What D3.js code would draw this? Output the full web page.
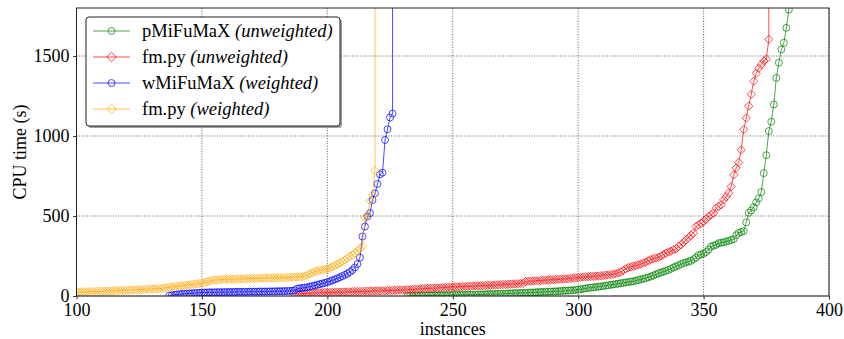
<!DOCTYPE html>
<html><head><meta charset="utf-8">
<script src="https://cdn.jsdelivr.net/npm/d3@7"></script>
<style>
html,body{margin:0;padding:0;background:#fff;}
svg{display:block;}
svg text{font-family:"Liberation Serif","DejaVu Serif","Times New Roman",serif;}
</style></head><body>
<svg id="chart" width="844" height="339"></svg>
<script>
// ---------- data ----------
const xTicks = [100, 150, 200, 250, 300, 350, 400];
const yTicks = [0, 500, 1000, 1500];
const seriesNames = ["pMiFuMaX", "fm.py", "wMiFuMaX", "fm.py"];
const seriesTags = ["(unweighted)", "(unweighted)", "(weighted)", "(weighted)"];
const seriesColors = ["green", "red", "blue", "orange"];
const seriesShapes = ["circle", "diamond", "circle", "diamond"];
// index of the last solved instance of each series (values run up to it)
const lastSolved = [384, 376, 226, 219];
// time limit reached after the last solved instance (drawn as the vertical rise)
const timeLimit = 3600;

const pMiFuMaXUnweighted = [
  1,1,1,2,2,2,2,3,3,3,3,4,4,4,4,5,5,5,6,
  6,6,7,7,7,8,8,8,9,9,10,10,11,11,12,12,13,13,14,14,15,16,16,17,18,
  18,19,20,20,21,22,22,23,24,25,25,26,27,28,28,29,30,31,32,33,34,35,36,38,
  40,42,45,48,50,52,54,56,58,60,
  62,65,67,70,72,75,77,80,82,85,
  87,90,92,96,100,104,108,112,117,122,
  128,135,142,147,152,157,163,170,178,185,
  192,200,206,210,215,220,230,240,255,260,
  265,275,290,309,315,320,330,333,336,340,
  345,350,355,380,395,400,405,460,520,535,
  555,585,610,650,768,880,1031,1089,1197,1363,
  1458,1541,1583,1676,1790
];
const fmpyUnweighted = [
  10,12,13,14,15,16,17,18,18,19,20,21,22,22,
  22,23,23,24,24,25,25,26,26,27,27,28,28,29,29,30,30,31,31,32,
  32,33,33,34,34,35,35,36,37,37,38,39,40,41,42,43,44,
  46,47,48,48,49,50,50,51,52,53,54,55,56,
  57,57,58,59,60,60,61,62,63,63,64,65,66,67,67,68,69,70,71,72,72,73,74,75,76,77,78,79,
  90,92,93,94,95,96,97,98,99,100,101,102,103,104,105,106,107,108,110,112,114,116,
  117,119,120,121,122,123,124,125,126,128,
  130,132,134,136,140,145,150,160,170,178,
  182,186,190,195,200,206,212,220,228,234,
  237,242,250,258,268,275,280,289,295,310,
  320,335,351,365,380,393,434,445,455,465,
  480,497,508,518,549,560,570,601,620,643,
  684,757,800,834,913,1041,1112,1187,1261,1342,
  1392,1423,1446,1469,1481,1604
];
const wMiFuMaXWeighted = [
  3,5,7,9,11,13,14,15,16,17,
  18,19,20,21,22,22,23,23,23,24,
  24,24,24,25,25,25,25,26,26,26,
  26,26,27,27,27,27,28,28,28,28,
  29,29,29,30,30,30,31,31,32,33,
  36,46,48,50,52,55,58,62,66,70,
  74,78,82,87,92,98,104,110,117,124,
  132,140,150,162,178,200,240,372,434,497,
  518,600,642,700,760,771,975,1042,1116,1140
];
const fmpyWeighted = [
  24,25,25,26,26,27,27,28,28,29,
  30,30,31,31,32,33,33,34,35,35,
  36,37,37,38,39,40,40,41,42,43,
  44,45,46,47,48,50,52,54,56,58,
  60,62,64,66,68,70,72,74,76,78,
  80,83,88,94,98,100,101,102,103,104,
  104,105,105,106,106,107,107,108,108,109,
  109,110,110,111,111,112,112,113,113,114,
  114,115,115,116,116,117,118,118,119,120,
  121,124,130,138,146,152,156,160,163,166,
  170,175,182,190,198,206,215,225,236,248,
  258,268,280,295,311,490,500,595,630,784
];
const seriesValues = [pMiFuMaXUnweighted, fmpyUnweighted, wMiFuMaXWeighted, fmpyWeighted];

// ---------- layout ----------
const FONT = '"Liberation Serif","DejaVu Serif","Times New Roman",serif';
const L = 76.5, R = 829, T = 8, B = 296;
const x = d3.scaleLinear().domain([100, 400]).range([L, R]);
const y = d3.scaleLinear().domain([0, 1800]).range([B, T]);
const svg = d3.select("#chart");

svg.append("defs").append("clipPath").attr("id", "plotclip")
  .append("rect").attr("x", L).attr("y", T).attr("width", R - L).attr("height", B - T);

// grid
const grid = svg.append("g");
grid.selectAll(".gx").data(xTicks).join("line")
  .attr("x1", d => x(d)).attr("x2", d => x(d)).attr("y1", T).attr("y2", B)
  .attr("stroke", "#333").attr("stroke-width", 0.8).attr("stroke-dasharray", "1,1.6");
grid.selectAll(".gy").data(yTicks).join("line")
  .attr("y1", d => y(d)).attr("y2", d => y(d)).attr("x1", L).attr("x2", R)
  .attr("stroke", "#333").attr("stroke-width", 0.8).attr("stroke-dasharray", "1,1.6");

// series
const plot = svg.append("g").attr("clip-path", "url(#plotclip)");
const circleSym = d3.symbol().type(d3.symbolCircle).size(38);
const diamondSym = d3.symbol().type(d3.symbolDiamond2).size(44);
const line = d3.line().x(d => x(d[0])).y(d => y(d[1]));

seriesValues.forEach((vals, s) => {
  const n = vals.length;
  const first = lastSolved[s] - n + 1;
  const pts = vals.map((v, i) => [first + i, v]);
  const g = plot.append("g");
  g.append("path").datum(pts.concat([[lastSolved[s], timeLimit]]))
    .attr("d", line).attr("fill", "none")
    .attr("stroke", seriesColors[s]).attr("stroke-opacity", 0.7).attr("stroke-width", 1);
  g.selectAll("path.m").data(pts).join("path").attr("class", "m")
    .attr("d", seriesShapes[s] === "circle" ? circleSym() : diamondSym())
    .attr("transform", d => `translate(${x(d[0])},${y(d[1])})`)
    .attr("fill", "none").attr("stroke", seriesColors[s])
    .attr("stroke-opacity", 0.7).attr("stroke-width", 1);
});

// axes
const xAxis = d3.axisBottom(x).tickValues(xTicks).tickSize(3.5).tickPadding(3.5).tickFormat(d3.format("d"));
const yAxis = d3.axisLeft(y).tickValues(yTicks).tickSize(3.5).tickPadding(3.5).tickFormat(d3.format("d"));
const gx = svg.append("g").attr("transform", `translate(0,${B})`).call(xAxis);
const gy = svg.append("g").attr("transform", `translate(${L},0)`).call(yAxis);
[gx, gy].forEach(g => {
  g.attr("font-family", FONT).attr("font-size", 18);
  g.select(".domain").remove();
  g.selectAll("line").attr("stroke", "#000").attr("stroke-width", 0.8);
  g.selectAll("text").attr("fill", "#000").attr("font-family", FONT).attr("font-size", 18);
});

// frame
svg.append("rect").attr("x", L).attr("y", T).attr("width", R - L).attr("height", B - T)
  .attr("fill", "none").attr("stroke", "#222").attr("stroke-width", 1);

// axis labels
svg.append("text").attr("x", (L + R) / 2).attr("y", 335).attr("text-anchor", "middle")
  .attr("font-family", FONT).attr("font-size", 18).text("instances");
svg.append("text").attr("transform", `translate(26,${(T + B) / 2}) rotate(-90)`)
  .attr("text-anchor", "middle").attr("font-family", FONT).attr("font-size", 18).text("CPU time (s)");

// legend
const lg = svg.append("g");
const lx = 86, ly = 17, lw = 254, lh = 109;
lg.append("rect").attr("x", lx + 2).attr("y", ly + 2).attr("width", lw).attr("height", lh)
  .attr("rx", 3).attr("fill", "#777").attr("opacity", 0.7);
lg.append("rect").attr("x", lx).attr("y", ly).attr("width", lw).attr("height", lh)
  .attr("rx", 3).attr("fill", "#fff").attr("stroke", "#222").attr("stroke-width", 1);
seriesNames.forEach((name, s) => {
  const cy = 31 + s * 26;
  lg.append("line").attr("x1", 93).attr("x2", 130).attr("y1", cy).attr("y2", cy)
    .attr("stroke", seriesColors[s]).attr("stroke-opacity", 0.7).attr("stroke-width", 1);
  lg.append("path").attr("d", seriesShapes[s] === "circle" ? circleSym() : d3.symbol().type(d3.symbolDiamond2).size(55)())
    .attr("transform", `translate(111.5,${cy})`)
    .attr("fill", "none").attr("stroke", seriesColors[s]).attr("stroke-opacity", 0.7).attr("stroke-width", 1);
  const t = lg.append("text").attr("x", 142).attr("y", cy + 6)
    .attr("font-family", FONT).attr("font-size", 18.5);
  t.append("tspan").text(name + " ");
  t.append("tspan").attr("font-style", "italic").text(seriesTags[s]);
});
</script>
</body></html>
